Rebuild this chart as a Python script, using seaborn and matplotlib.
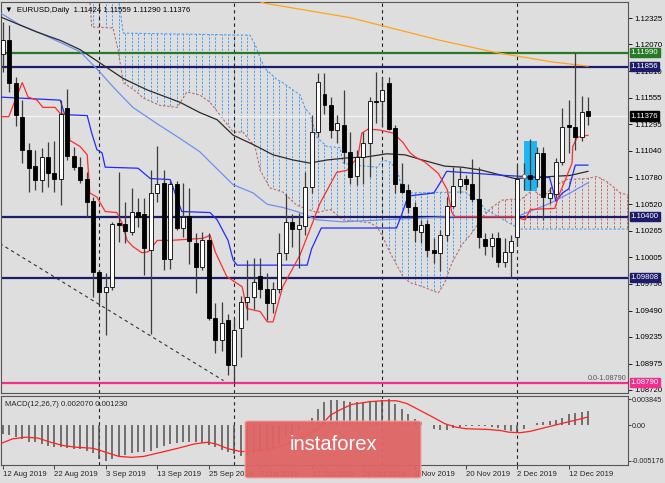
import numpy as np
import matplotlib
matplotlib.use("Agg")
import matplotlib.pyplot as plt
from matplotlib.patches import Polygon, Rectangle, FancyBboxPatch
import seaborn as sns

# Candles, EURUSD daily, 12 Aug 2019 .. 17 Dec 2019 (bar index 0..91)
opens = [1.1198, 1.1211, 1.1170, 1.1137, 1.1105, 1.1089, 1.1076, 1.1098, 1.1082, 1.1077,
         1.1145, 1.1099, 1.1088, 1.1077, 1.1055, 1.0986, 1.0967, 1.0972, 1.1034, 1.1033,
         1.1025, 1.1045, 1.1043, 1.1008, 1.1063, 1.1073, 1.0999, 1.1072, 1.1029, 1.1041,
         1.1014, 1.0991, 1.1017, 1.0942, 1.0920, 1.0940, 1.0896, 1.0932, 1.0957, 1.0962,
         1.0982, 1.0970, 1.0956, 1.0970, 1.1005, 1.1035, 1.1028, 1.1031, 1.1069, 1.1122,
         1.1159, 1.1148, 1.1124, 1.1129, 1.1103, 1.1079, 1.1098, 1.1111, 1.1152, 1.1152,
         1.1170, 1.1126, 1.1072, 1.1066, 1.1049, 1.1025, 1.1033, 1.1008, 1.1005, 1.1022,
         1.1050, 1.1070, 1.1077, 1.1072, 1.1057, 1.1018, 1.1012, 1.1019, 1.0996, 1.1006,
         1.1020, 1.1078, 1.1080, 1.1077, 1.1102, 1.1058, 1.1062, 1.1093, 1.1129, 1.1127,
         1.1117, 1.11424]
highs = [1.1229, 1.1226, 1.1175, 1.1153, 1.1111, 1.1105, 1.1107, 1.1112, 1.1113, 1.1153,
         1.1164, 1.1108, 1.1098, 1.1083, 1.1059, 1.0988, 1.0985, 1.1035, 1.1083, 1.1054,
         1.1068, 1.1058, 1.1058, 1.1085, 1.1109, 1.1085, 1.1075, 1.1075, 1.1073, 1.1068,
         1.1024, 1.1025, 1.1024, 1.0956, 1.0957, 1.0946, 1.0942, 1.0963, 1.0998, 1.1000,
         1.1000, 1.0985, 1.0977, 1.1024, 1.1062, 1.1043, 1.1044, 1.1083, 1.1139, 1.1179,
         1.1179, 1.1156, 1.1139, 1.1163, 1.1122, 1.1105, 1.1122, 1.1156, 1.1180, 1.1175,
         1.1175, 1.1129, 1.1092, 1.1072, 1.1054, 1.1037, 1.1037, 1.1019, 1.1027, 1.1059,
         1.1088, 1.1088, 1.1080, 1.1096, 1.1088, 1.1024, 1.1024, 1.1025, 1.1019, 1.1022,
         1.1090, 1.1092, 1.1115, 1.1108, 1.1108, 1.1069, 1.1097, 1.1145, 1.1153, 1.1199,
         1.1157, 1.11559]
lows = [1.1180, 1.1161, 1.1128, 1.1092, 1.1064, 1.1066, 1.1064, 1.1069, 1.1064, 1.1051,
        1.1095, 1.1085, 1.1073, 1.1040, 1.0962, 1.0956, 1.0925, 1.0969, 1.1015, 1.1014,
        1.1022, 1.1030, 1.0983, 1.0926, 1.1054, 1.0988, 1.0989, 1.1027, 1.1020, 1.0994,
        1.0966, 1.0988, 1.0940, 1.0908, 1.0910, 1.0886, 1.0879, 1.0904, 1.0940, 1.0950,
        1.0961, 1.0940, 1.0947, 1.0966, 1.0998, 1.1011, 1.0990, 1.1022, 1.1063, 1.1117,
        1.1140, 1.1116, 1.1111, 1.1092, 1.1072, 1.1071, 1.1072, 1.1078, 1.1131, 1.1127,
        1.1124, 1.1063, 1.1063, 1.1044, 1.1015, 1.1014, 1.1001, 1.0995, 1.0987, 1.1016,
        1.1048, 1.1063, 1.1066, 1.1054, 1.1010, 1.1003, 1.1001, 1.0991, 1.0991, 1.0981,
        1.1012, 1.1066, 1.1066, 1.1069, 1.1037, 1.1053, 1.1058, 1.1090, 1.1102, 1.1105,
        1.1113, 1.11290]
closes = [1.1211, 1.1170, 1.1139, 1.1105, 1.1087, 1.1076, 1.1098, 1.1082, 1.1077, 1.1140,
          1.1099, 1.1088, 1.1076, 1.1054, 1.0986, 1.0967, 1.0972, 1.1033, 1.1032, 1.1026,
          1.1045, 1.1040, 1.1010, 1.1063, 1.1072, 1.0999, 1.1072, 1.1029, 1.1040, 1.1016,
          1.0991, 1.1017, 1.0942, 1.0920, 1.0937, 1.0896, 1.0930, 1.0957, 1.0962, 1.0977,
          1.0970, 1.0956, 1.0970, 1.1005, 1.1035, 1.1028, 1.1032, 1.1069, 1.1122, 1.1171,
          1.1148, 1.1124, 1.1131, 1.1103, 1.1078, 1.1098, 1.1111, 1.1152, 1.1151, 1.1163,
          1.1125, 1.1072, 1.1064, 1.1049, 1.1027, 1.1032, 1.1008, 1.1005, 1.1022, 1.1050,
          1.1070, 1.1077, 1.1072, 1.1057, 1.1020, 1.1012, 1.1019, 1.0996, 1.1006, 1.1016,
          1.1077, 1.1080, 1.1077, 1.1102, 1.1059, 1.1063, 1.1093, 1.1127, 1.1127, 1.1117,
          1.1142, 1.11376]

# Indicator lines (bar index, price)
tenkan_idx = [-0.3, 0.9, 1.9, 3.0, 3.9, 5.3, 6.2, 8.1, 8.9, 10.0, 10.4, 12.0, 13.1, 13.5, 14.6,
              15.9, 17.7, 18.5, 19.3, 20.2, 21.6, 22.6, 24.0, 26.0, 31.1, 32.2, 33.0, 34.8,
              37.2, 37.9, 40.0, 41.1, 42.0, 43.5, 44.9, 46.2, 47.7, 49.3, 51.9, 53.5, 55.2,
              55.8, 56.8, 58.6, 60.7, 62.2, 63.3, 64.1, 65.6, 67.7, 69.1, 69.8, 70.3, 79.2,
              81.2, 82.0, 85.8, 86.6, 87.4, 88.5, 88.6, 89.3, 91.0]
tenkan_val = [1.1137, 1.1137, 1.1153, 1.1170, 1.1156, 1.1153, 1.1146, 1.1146, 1.1140, 1.1139,
              1.1114, 1.1108, 1.1100, 1.1063, 1.1059, 1.1045, 1.1044, 1.1034, 1.1017, 1.1011,
              1.1005, 1.1006, 1.1017, 1.1017, 1.1019, 1.1022, 1.1006, 1.0982, 1.0972, 1.0951,
              1.0948, 1.0938, 1.0938, 1.0972, 1.0988, 1.1003, 1.1027, 1.1053, 1.1083, 1.1085,
              1.1098, 1.1121, 1.1125, 1.1124, 1.1121, 1.1112, 1.1102, 1.1098, 1.1093, 1.1082,
              1.1066, 1.1044, 1.1040, 1.1040, 1.1037, 1.1047, 1.1048, 1.1063, 1.1075, 1.1092,
              1.1108, 1.1117, 1.1119]
kijun_idx = [-0.5, 8.9, 9.6, 13.1, 13.8, 14.6, 15.4, 15.9, 21.0, 22.9, 26.0, 27.8, 32.2, 33.3,
             35.0, 35.8, 36.4, 47.3, 48.0, 49.5, 61.2, 62.0, 63.0, 67.0, 68.0, 69.0, 78.0,
             84.0, 85.0, 86.0, 87.0, 88.0, 89.0, 91.0]
kijun_val = [1.1156, 1.1153, 1.1139, 1.1138, 1.1121, 1.1105, 1.1102, 1.1088, 1.1087, 1.1077,
             1.1076, 1.1045, 1.1044, 1.1037, 1.1017, 1.0998, 1.0993, 1.0993, 1.1009, 1.1029,
             1.1029, 1.1042, 1.1060, 1.1063, 1.1073, 1.1084, 1.1080, 1.1078, 1.1078, 1.1055,
             1.1063, 1.1067, 1.1090, 1.1090]
ma_black_idx = [-0.5, 5.3, 8.9, 12.0, 15.1, 18.7, 22.4, 27.5, 30.6, 33.3, 35.8, 38.9, 42.0,
                45.1, 47.7, 50.4, 53.5, 56.6, 59.7, 62.5, 65.2, 68.7, 71.4, 74.5, 77.0, 79.6,
                85.4, 88.2, 91.0]
ma_black_val = [1.1234, 1.1219, 1.1211, 1.1202, 1.1189, 1.1174, 1.1163, 1.1151, 1.1141, 1.1134,
                1.1119, 1.1110, 1.1100, 1.1095, 1.1092, 1.1095, 1.1097, 1.1098, 1.1101, 1.1100,
                1.1095, 1.1089, 1.1088, 1.1085, 1.1081, 1.1077, 1.1079, 1.1080, 1.1084]
ma_light_idx = [-0.5, 2.6, 5.8, 8.9, 12.0, 15.1, 17.1, 20.2, 24.0, 27.5, 30.6, 32.7, 35.8,
                38.9, 41.1, 43.5, 46.2, 48.8, 52.9, 59.1, 69.5, 79.9, 85.1, 88.2, 91.0]
ma_light_val = [1.1238, 1.1226, 1.1218, 1.1209, 1.1200, 1.1180, 1.1166, 1.1146, 1.1130, 1.1116,
                1.1103, 1.1090, 1.1071, 1.1063, 1.1052, 1.1049, 1.1044, 1.1037, 1.1035, 1.1037,
                1.1040, 1.1040, 1.1053, 1.1063, 1.1073]
ma_orange_idx = [38.5, 40.7, 54.0, 68.0, 76.8, 85.5, 91.0]
ma_orange_val = [1.1252, 1.1247, 1.1233, 1.1211, 1.1199, 1.1190, 1.1186]

# Ichimoku cloud edges (span A rosy, span B blue), shifted forward
span_a_idx = [12.0, 13.5, 13.8, 17.1, 17.9, 18.7, 20.8, 21.8, 24.4, 27.1, 28.6, 30.6, 32.2,
              35.8, 37.3, 39.2, 40.0, 41.5, 43.5, 45.7, 48.8, 50.9, 52.9, 57.1, 58.2, 59.1,
              60.2, 62.2, 63.3, 65.3, 67.7, 68.7, 69.8, 71.4, 72.9, 74.5, 76.0, 77.6, 79.2,
              80.4, 82.4, 84.0, 85.5, 87.7, 90.8, 92.4, 93.9, 94.9, 96.0, 97.2]
span_a_val = [1.1260, 1.1250, 1.1224, 1.1223, 1.1202, 1.1170, 1.1161, 1.1155, 1.1148, 1.1146,
              1.1161, 1.1158, 1.1151, 1.1122, 1.1122, 1.1108, 1.1085, 1.1068, 1.1064, 1.1051,
              1.1044, 1.1047, 1.1037, 1.1034, 1.1030, 1.1020, 1.1005, 1.0982, 1.0976, 1.0972,
              1.0966, 1.0976, 1.0995, 1.1013, 1.1024, 1.1039, 1.1049, 1.1056, 1.1057, 1.1056,
              1.1066, 1.1059, 1.1069, 1.1076, 1.1077, 1.1079, 1.1074, 1.1069, 1.1063, 1.1061]
span_b_idx = [12.0, 17.9, 18.7, 38.4, 39.2, 40.0, 40.7, 42.6, 43.5, 46.2, 47.0, 47.7, 48.8,
              50.4, 52.4, 52.9, 54.4, 58.2, 59.1, 60.2, 61.3, 62.2, 63.3, 71.9, 72.9, 73.9,
              75.0, 76.5, 78.4, 80.4, 97.2]
span_b_val = [1.1270, 1.1255, 1.1218, 1.1216, 1.1207, 1.1194, 1.1184, 1.1173, 1.1170, 1.1158,
              1.1145, 1.1140, 1.1117, 1.1108, 1.1107, 1.1092, 1.1090, 1.1088, 1.1095, 1.1093,
              1.1085, 1.1064, 1.1063, 1.1064, 1.1059, 1.1056, 1.1047, 1.1042, 1.1035, 1.1028,
              1.1028]

# MACD(12,26,7): main histogram per bar and signal line
macd_main = [-0.00123, -0.00148, -0.00173, -0.00197, -0.00237, -0.00247, -0.00271, -0.00296,
             -0.00320, -0.00320, -0.00335, -0.00345, -0.00345, -0.00370, -0.00404, -0.00493,
             -0.00518, -0.00493, -0.00454, -0.00434, -0.00404, -0.00394, -0.00385, -0.00370,
             -0.00335, -0.00296, -0.00271, -0.00261, -0.00247, -0.00247, -0.00247, -0.00256,
             -0.00286, -0.00320, -0.00355, -0.00385, -0.00419, -0.00444, -0.00434, -0.00404,
             -0.00385, -0.00370, -0.00335, -0.00271, -0.00173, -0.00123, -0.00049, 0.00010,
             0.00108, 0.00247, 0.00335, 0.00365, 0.00370, 0.00355, 0.00335, 0.00345, 0.00345,
             0.00345, 0.00355, 0.00370, 0.00384, 0.00320, 0.00247, 0.00173, 0.00099, 0.00049,
             0.00010, -0.00049, -0.00074, -0.00074, -0.00039, -0.00025, -0.00015, -0.00010,
             -0.00010, -0.00015, -0.00025, -0.00039, -0.00074, -0.00089, -0.00099, -0.00049,
             0.00002, 0.00039, 0.00049, 0.00059, 0.00074, 0.00108, 0.00160, 0.00175, 0.00200,
             0.00207]
macd_sig_idx = [-0.5, 1.5, 3.5, 5.5, 7.4, 9.4, 11.4, 14.0, 16.0, 18.0, 20.0, 21.9, 24.6, 27.2,
                29.8, 31.8, 33.1, 35.1, 37.1, 39.1, 41.7, 44.3, 47.0, 49.0, 50.9, 52.3, 54.2,
                56.9, 58.9, 61.2, 62.8, 64.8, 66.8, 68.7, 70.4, 72.0, 75.3, 77.3, 78.6, 80.3,
                81.9, 84.5, 87.2, 89.2, 91.0]
macd_sig_val = [-0.00271, -0.00197, -0.00173, -0.00187, -0.00247, -0.00296, -0.00320, -0.00335,
                -0.00394, -0.00454, -0.00468, -0.00454, -0.00394, -0.00335, -0.00271, -0.00247,
                -0.00271, -0.00345, -0.00385, -0.00370, -0.00345, -0.00271, -0.00158, -0.00049,
                0.00148, 0.00222, 0.00306, 0.00345, 0.00360, 0.00360, 0.00320, 0.00222, 0.00123,
                0.00025, -0.00025, -0.00049, -0.00059, -0.00074, -0.00099, -0.00108, -0.00089,
                -0.00028, 0.00035, 0.00080, 0.00123]

# Levels, drawn objects and axis labels
level_prices = [1.11990, 1.11856, 1.10400, 1.09808, 1.08790]
level_colors = ['#267a26', '#1c1c6a', '#1c1c6a', '#1c1c6a', '#f0308c']
bid_price = 1.11376
trend_idx = [-0.5, 34.3]
trend_val = [1.1014, 1.0881]
box_idx = [81.0, 83.05]
box_val = [1.1065, 1.1113]
separator_idx = [15, 36, 59, 80]
price_ticks = [1.12325, 1.12070, 1.11810, 1.11555, 1.11295, 1.11040, 1.10780, 1.10520,
               1.10265, 1.10005, 1.09750, 1.09490, 1.09235, 1.08975, 1.08720]
macd_ticks = [0.003845, 0.0, -0.005176]
macd_tick_labels = ['0.003845', '0.00', '-0.005176']
date_idx = [0, 8, 16, 24, 32, 40, 48, 56, 64, 72, 80, 88]
date_labels = ['12 Aug 2019', '22 Aug 2019', '3 Sep 2019', '13 Sep 2019', '25 Sep 2019',
               '7 Oct 2019', '17 Oct 2019', '29 Oct 2019', '8 Nov 2019', '20 Nov 2019',
               '2 Dec 2019', '12 Dec 2019']

bg = '#dedede'
sns.set_style('white', {'axes.facecolor': bg, 'figure.facecolor': bg})
plt.rcParams['font.family'] = ['Liberation Sans', 'DejaVu Sans']
fs = 5.6

fig = plt.figure(figsize=(6.65, 4.83), dpi=100)
ax = fig.add_axes([1 / 665, 1 - 393 / 483, 627 / 665, 391 / 483])
ax2 = fig.add_axes([1 / 665, 1 - 465 / 483, 627 / 665, 69 / 483])

o = np.array(opens); h = np.array(highs); l = np.array(lows); c = np.array(closes)
x = np.arange(len(c))
xmin, xmax = -0.31, 97.2

# cloud: dashed verticals clipped to the area between the spans
poly = Polygon(np.column_stack([np.r_[span_a_idx, span_b_idx[::-1]],
                                np.r_[span_a_val, span_b_val[::-1]]]),
               closed=True, transform=ax.transData, fc='none', ec='none')
ax.add_patch(poly)
hx = np.arange(12, 98)
for sel, col in [(hx <= 75, '#4a9ff0'), (hx > 75, '#bf6b68')]:
    lc = ax.vlines(hx[sel], 1.08, 1.13, colors=col, lw=0.7, linestyles=(0, (2.2, 1.6)), zorder=1)
    lc.set_clip_path(poly)
ax.plot(span_a_idx, span_a_val, color='#bf6b68', lw=0.8, ls=(0, (2.2, 1.6)), zorder=1.2)
ax.plot(span_b_idx, span_b_val, color='#4a9ff0', lw=0.8, ls=(0, (2.2, 1.6)), zorder=1.2)

# horizontal levels
ax.axhline(bid_price, color='#f2f2f8', lw=1.0, zorder=1.5)
for p, col in zip(level_prices, level_colors):
    ax.axhline(p, color=col, lw=1.6, zorder=2)

for s in separator_idx:
    ax.axvline(s, color='#222222', lw=0.8, ls=(0, (3, 3)), zorder=1.6)
    ax2.axvline(s, color='#222222', lw=0.8, ls=(0, (3, 3)), zorder=1.6)

ax.plot(trend_idx, trend_val, color='#333333', lw=0.8, ls=(0, (3, 3)), zorder=1.6)
ax.add_patch(Rectangle((box_idx[0], box_val[0]), box_idx[1] - box_idx[0],
                       box_val[1] - box_val[0], fc='#1eb6f2', ec='none', zorder=2.2))

# moving averages and ichimoku lines
for xi, yi, col in [(ma_orange_idx, ma_orange_val, '#ffa31a'),
                    (ma_light_idx, ma_light_val, '#6f8ff0'),
                    (ma_black_idx, ma_black_val, '#2b2b2b'),
                    (kijun_idx, kijun_val, '#1f2cff'),
                    (tenkan_idx, tenkan_val, '#ff2d2d')]:
    sns.lineplot(x=xi, y=yi, ax=ax, color=col, lw=0.9, estimator=None, sort=False,
                 legend=False, zorder=3)

# candles
up = c >= o
ax.vlines(x, l, h, color='#3c3c3c', lw=0.9, zorder=4)
body = np.maximum(np.abs(c - o), 0.00004)
ax.bar(x, body, bottom=np.minimum(o, c), width=0.62, color=np.where(up, 'white', 'black'),
       edgecolor='black', linewidth=0.6, zorder=5)
ax.plot([81], [1.1079], marker='o', ms=3, mfc='white', mec='#777777', mew=0.7, zorder=6)

ax.set_xlim(xmin, xmax)
ax.set_ylim(1.08690, 1.12482)
ax.yaxis.tick_right()
ax.set_yticks(price_ticks)
ax.set_yticklabels([f'{t:.5f}' for t in price_ticks])
ax.tick_params(axis='y', length=3, width=0.6, pad=1.5, labelsize=fs, colors='black', right=True)
ax.tick_params(axis='x', bottom=False, labelbottom=False)
for sp in ax.spines.values():
    sp.set_color('#555555'); sp.set_linewidth(0.8)

# price tags on the right axis
for p, col in zip(level_prices + [bid_price], level_colors + ['black']):
    ax.annotate(f'{p:.5f}', xy=(1, p), xycoords=('axes fraction', 'data'), xytext=(2, 0),
                textcoords='offset points', ha='left', va='center', fontsize=fs, color='white',
                bbox=dict(boxstyle='square,pad=0.15', fc=col, ec=col), annotation_clip=False,
                zorder=8)

ax.text(0.006, 0.988, '\u25bc  EURUSD,Daily  1.11424 1.11559 1.11290 1.11376',
        transform=ax.transAxes, va='top', ha='left', fontsize=fs, color='black')
ax.text(0.998, 1.0880, '0.0-1.08790', ha='right', va='bottom', fontsize=5.2, color='#555555',
        transform=ax.get_yaxis_transform(), zorder=7)

# MACD panel
ax2.vlines(x, 0, macd_main, color='#505050', lw=1.1, zorder=2)
sns.lineplot(x=macd_sig_idx, y=macd_sig_val, ax=ax2, color='#ff2020', lw=0.9,
             estimator=None, sort=False, legend=False, zorder=3)
ax2.set_xlim(xmin, xmax)
ax2.set_ylim(-0.0058, 0.0043)
ax2.yaxis.tick_right()
ax2.set_yticks(macd_ticks)
ax2.set_yticklabels(macd_tick_labels)
ax2.tick_params(axis='y', length=2, width=0.6, pad=0.8, labelsize=5.2, right=True)
ax2.set_xticks(date_idx)
ax2.set_xticklabels(date_labels, ha='left')
ax2.tick_params(axis='x', length=3, width=0.6, pad=1.5, labelsize=fs, bottom=True)
ax2.set_xlabel(''); ax2.set_ylabel(''); ax.set_xlabel(''); ax.set_ylabel('')
for sp in ax2.spines.values():
    sp.set_color('#555555'); sp.set_linewidth(0.8)
ax2.text(0.006, 0.93, 'MACD(12,26,7) 0.002070 0.001230', transform=ax2.transAxes,
         va='top', ha='left', fontsize=fs)

# watermark
fig.patches.append(FancyBboxPatch((0.3684, 0.0104), 0.2647, 0.118,
                                  boxstyle='round,pad=0,rounding_size=0.004',
                                  transform=fig.transFigure, fc='#e06464', ec='#f2a8a8',
                                  lw=0.8, alpha=0.95, zorder=10))
fig.text(0.5008, 0.079, 'instaforex', color='white', fontsize=14.5, ha='center',
         va='center', zorder=11)

fig.savefig('out.png', dpi=100, facecolor=bg)
